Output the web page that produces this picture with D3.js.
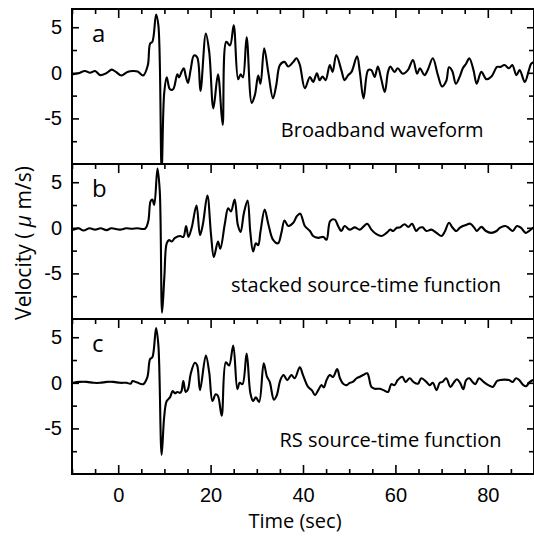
<!DOCTYPE html>
<meta charset="utf-8">
<style>
body { margin: 0; background: #fff; }
svg { display: block; font-family: "Open Sans", sans-serif; }
.tick text { font-size: 20px; fill: #000; }
.tick line { stroke: #000; stroke-width: 1.6px; }
.frame { fill: none; stroke: #000; stroke-width: 2px; }
.trace { fill: none; stroke: #000; stroke-width: 2.1px; stroke-linejoin: round; }
</style>
<svg width="534" height="542"></svg>
<script src="https://d3js.org/d3.v7.min.js"></script>
<script>

// panel a: broadband waveform
var timeA = [-10, -9.7, -8.6, -7.2, -6.1, -5, -3.9, -2.6, -1.4, -0.5, 0.7, 2, 3.2, 4.2, 5.4, 6.4, 6.9, 7.4, 8.2, 8.7, 9.4,
  9.96, 10.5, 11.2, 11.9, 12.8, 13.2, 13.7, 14.2, 14.6, 15.1, 15.7, 16.4, 17.1, 17.8, 18.97, 19.7, 20.6, 21.6, 22.6,
  23.4, 24.2, 25, 25.96, 26.5, 27, 27.8, 28.9, 29.6, 30.3, 30.8, 31.6, 32.5, 33.5, 34.2, 35, 36, 36.8, 37.9, 38.6,
  39.3, 40.4, 41.5, 42.2, 43, 43.6, 44.2, 44.9, 45.8, 46.4, 47.2, 48.3, 49, 49.7, 50.5, 51.7, 52.3, 53.1, 54.1, 54.8,
  55.5, 56.2, 56.9, 57.7, 58.4, 58.9, 59.8, 60.5, 61.6, 62.7, 63.8, 64.7, 65.3, 66.3, 67, 68.1, 69.2, 70.1, 71,
  71.6, 72.3, 73.1, 73.9, 74.6, 75.3, 76, 76.9, 77.6, 78.6, 79.7, 80.8, 82, 82.7, 83.6, 84.6, 85.3, 86.2, 86.9,
  88, 88.9, 89.4, 90];
var velA = [-0.15, -0.15, -0.05, 0.2, 0, 0.2, -0.25, -0.05, 0.35, 0.1, -0.3, 0.1, 0.2, 0.15, -0.3, 0.8, 3.2, 3.4, 6.4, 5.2, -10.6,
  -2.2, -0.5, -1.8, -1.8, -0.15, -0.5, 0.1, 0.5, -0.3, -1.1, 0.4, 1.9, 1.7, -2, 4.3, 2.3, -3.9, -0.15, -5.7,
  3.4, 3, 5.2, -0.7, -0.15, -0.5, 3.9, -3.3, -2.4, -0.3, -1.2, 2.7, 0, -2.8, -1.4, 0.85, 1.2, 0.7, 1.2, 1.6,
  0.9, -1.7, -0.45, -1, -0.05, -0.8, -0.4, -0.8, 0.85, 0.1, 1.95, 0.3, -0.8, -0.3, 0.1, 1.8, 0.1, -2.8, 0.3, 0.3,
  -0.45, 0.7, -0.6, -2.1, 0.1, 0.7, 0.1, 0.5, -0.1, 0.3, 1.4, -0.1, 0.5, -0.25, 0.3, 1.6, -0.25, -1.5, -0.9,
  0.6, 0.2, -1.2, -0.45, 0.5, 1, 1.6, 0.3, -1.2, 0.1, -0.7, -0.4, 0.65, 0.65, 0.85, 0.5, 0.85, -0.25, 0.3,
  -1, 0.3, 1, 1.2];

// panel b: stacked source-time function
var timeB = [-10, -9.7, -8.6, -7.5, -6.2, -5, -3.8, -2.5, -1.5, 0.4, 1.7, 2.9, 4.2, 5.8, 6.5, 7, 7.4, 7.8, 8.5, 9, 9.5,
  10, 10.5, 11, 11.6, 12.3, 13.4, 14.1, 14.7, 15.2, 15.9, 16.95, 17.7, 18.3, 19.3, 20.1, 20.7, 21.6, 22.1, 23.1,
  23.8, 24.4, 25.2, 25.9, 26.5, 27.2, 28, 28.6, 29.2, 29.8, 30.3, 30.8, 31.7, 32.5, 33.5, 34.6, 35.3, 36, 36.8,
  37.9, 38.7, 39.4, 40.4, 41.5, 42.2, 43.3, 44.4, 45.1, 45.9, 46.9, 47.6, 48.3, 49, 50.1, 51.2, 52.3, 53.9, 54.8,
  55.9, 57, 58.1, 58.9, 59.5, 60.3, 61, 62, 62.8, 63.6, 64.5, 65.2, 65.9, 66.7, 67.8, 68.9, 70, 70.7, 71.6, 72.4,
  73.2, 73.9, 74.6, 75.4, 76.2, 77.1, 77.6, 78.6, 79.6, 80.7, 81.9, 82.6, 83.8, 84.5, 85.4, 86.3, 87.2, 88.2, 88.9,
  89.8, 90];
var velB = [-0.1, -0.2, -0.05, -0.3, -0.05, -0.2, -0.05, -0.25, -0.05, -0.2, -0.05, -0.1, -0.05, -0.1, 0.7, 2.9, 3.1, 2.5, 6.5, 4, -9.3,
  -5.3, -1.7, -1.35, -1.5, -1.1, -0.9, -1, 0.2, -1, 0, 2.45, -0.8, 0.3, 3.55, -0.8, -3.2, -1.5, -2.3, 0.5,
  2.15, 1.8, 3.1, 0.3, -0.45, 1.6, 3, -0.5, -2.6, -1.7, -1.9, -0.4, 2, 0.4, -1.3, -1.7, -0.6, 0.8, 0.2,
  0.55, 1.3, 1.55, 0.2, -0.35, -0.9, -1.1, -1, -1.3, 0.75, 0.9, 0.2, -0.35, 0.2, -0.2, 0.05, -0.2, 0.45, -0.2,
  -0.7, -0.9, -0.55, -0.2, -0.35, 0, 0.05, 0.4, 0.1, 0.45, -0.35, 0, 0.05, -0.35, -0.2, -0.55, -0.9, -0.4, 0.55, 0,
  -0.35, 0, 0.2, 0.35, 0.45, 0, -0.35, 0.1, -0.35, -0.55, -0.35, 0, 0.2, 0, -0.35, 0.2, 0, -0.55, -0.35,
  0, 0.1];

// panel c: RS source-time function
var timeC = [-10, -9.7, -8.3, -6.8, -5.3, -3.9, -2.5, -1, 0.4, 1.8, 2.7, 3.1, 4, 5.4, 6.3, 6.9, 7.4, 8.2, 8.7, 9.4,
  9.96, 10.5, 11.2, 11.8, 12.3, 12.8, 13.4, 13.7, 14.1, 14.6, 15.1, 15.7, 16.6, 17.1, 17.7, 18.97, 19.7, 20.4, 21.1,
  21.6, 22.4, 23.3, 24, 24.9, 25.8, 26.3, 26.9, 27.8, 28.6, 29.2, 29.8, 30.5, 31.5, 32.2, 32.8, 33.7, 34.3, 35.1,
  35.8, 36.6, 37.5, 38.2, 39.3, 40, 41.1, 41.9, 42.6, 43.3, 44, 44.5, 45.1, 45.8, 46.5, 47.4, 48, 48.7, 49.5, 50.1,
  50.8, 51.6, 52.3, 53, 53.9, 54.8, 55.5, 56.6, 57.4, 58.4, 59.1, 59.8, 60.5, 61.5, 62.2, 63.1, 63.9, 64.9, 65.6,
  66.7, 67.4, 68.1, 68.9, 69.6, 70.2, 71, 71.9, 72.6, 73.3, 74, 74.7, 75.3, 76, 76.7, 77.3, 78.1, 79.1, 80.1, 81.1,
  82, 82.7, 83.6, 84.6, 85.4, 86.1, 86.8, 87.7, 88.3, 89.1, 89.8, 90];
var velC = [-0.05, 0, 0.1, 0.1, 0, 0, 0.1, 0.1, 0, 0, -0.1, 0.2, 0.05, -0.15, 0.6, 2.6, 2.8, 6, 4.1, -7.9,
  -3.7, -2, -1.6, -0.9, -1.15, -1, -1.1, -0.9, 0.2, -1, -0.7, 1, 2.2, 1.9, -0.8, 3, 1.15, -2, -1.25,
  -1.45, -3.6, 2.25, 1.9, 4.1, -0.7, 0, -0.15, 3.2, -1.1, -2, -1.6, -2.1, 2.15, 0.67, 0.1, -1.85, -1.4, 0.3,
  0.85, 0.3, 0.85, 0.5, 1.7, 0.85, -0.45, -0.8, -1.35, -0.8, -0.25, -0.5, 0.3, 0.85, 0.65, 1.5, 0.5, -0.1, -0.25, 0,
  0.1, 0.5, 0.67, 0.85, 1.05, -0.45, -0.65, -0.65, -0.8, -1, -0.15, -0.25, 0.3, 0.67, 0.1, 0.5, 0.1, -0.1, 0.5,
  0.1, -0.25, 0, -0.8, 0, 0.1, 0.5, -0.45, 0, 0.4, 0, -0.7, 0.3, 0.5, 0.1, -0.15, 0.5, 0.1, -0.25, -0.45,
  0.2, 0.3, 0.35, 0.3, 0.1, 0.5, 0.3, -0.25, -0.37, 0.1, 0.3, 0.2];

var panelLetters = ["a", "b", "c"];
var panelNotes = ["Broadband waveform", "stacked source-time function", "RS source-time function"];
var noteStart = [35.2, 24.4, 34.9];
var xTickValues = d3.range(-10, 91, 5);
var yTickValues = [5, 2.5, 0, -2.5, -5, -7.5];

var svg = d3.select("svg"),
    margin = {top: 9, left: 72},
    width = 462,
    panelH = 155;

var x = d3.scaleLinear().domain([-10, 90]).range([0, width]);
var y = d3.scaleLinear().domain([-10, 7]).range([panelH, 0]);

var line = d3.line()
    .curve(d3.curveCatmullRom.alpha(0.5))
    .x(function(d) { return x(d[0]); })
    .y(function(d) { return y(d[1]); });

var series = [d3.zip(timeA, velA), d3.zip(timeB, velB), d3.zip(timeC, velC)];

series.forEach(function(data, i) {
  var g = svg.append("g")
      .attr("transform", "translate(" + margin.left + "," + (margin.top + i * panelH) + ")");

  g.append("clipPath").attr("id", "clip" + i)
    .append("rect").attr("width", width).attr("height", panelH);

  g.append("path")
      .attr("class", "trace")
      .attr("clip-path", "url(#clip" + i + ")")
      .attr("d", line(data));

  // top ticks pointing down
  var top = g.append("g")
      .call(d3.axisTop(x).tickValues(xTickValues).tickSize(-5).tickFormat(""));
  top.selectAll(".tick line").attr("y2", function(d) { return d % 20 === 0 ? 9 : 5; });

  if (i === 2) {
    var bottom = g.append("g")
        .attr("transform", "translate(0," + panelH + ")")
        .call(d3.axisBottom(x).tickValues(xTickValues).tickSize(-5).tickPadding(14)
          .tickFormat(function(d) { return d % 20 === 0 ? String(d) : ""; }));
    bottom.selectAll(".tick line").attr("y2", function(d) { return d % 20 === 0 ? -9 : -5; });
  }

  var left = g.append("g")
      .call(d3.axisLeft(y).tickValues(yTickValues).tickSize(-5).tickPadding(10)
        .tickFormat(function(d) { return d % 5 === 0 ? String(d) : ""; }));
  left.selectAll(".tick line").attr("x2", function(d) { return d % 5 === 0 ? 7 : 5; });

  var right = g.append("g")
      .attr("transform", "translate(" + width + ",0)")
      .call(d3.axisRight(y).tickValues(yTickValues).tickSize(-5).tickFormat(""));
  right.selectAll(".tick line").attr("x2", function(d) { return d % 5 === 0 ? -7 : -5; });

  g.selectAll(".domain").remove();

  g.append("rect")
      .attr("class", "frame")
      .attr("width", width)
      .attr("height", panelH);

  g.append("text")
      .attr("x", 20)
      .attr("y", 33)
      .style("font-size", "24px")
      .text(panelLetters[i]);

  g.append("text")
      .attr("x", x(noteStart[i]))
      .attr("y", y(-7))
      .style("font-size", "20px")
      .text(panelNotes[i]);
});

svg.append("text")
    .attr("x", margin.left + width / 2 - 8)
    .attr("y", 528)
    .attr("text-anchor", "middle")
    .style("font-size", "20px")
    .text("Time (sec)");

var ylab = svg.append("text")
    .attr("transform", "translate(31," + 243 + ") rotate(-90)")
    .attr("text-anchor", "middle")
    .style("font-size", "21px");
ylab.append("tspan").text("Velocity ( ");
ylab.append("tspan").style("font-style", "italic").text("\u03bc");
ylab.append("tspan").text(" m/s)");
</script>
